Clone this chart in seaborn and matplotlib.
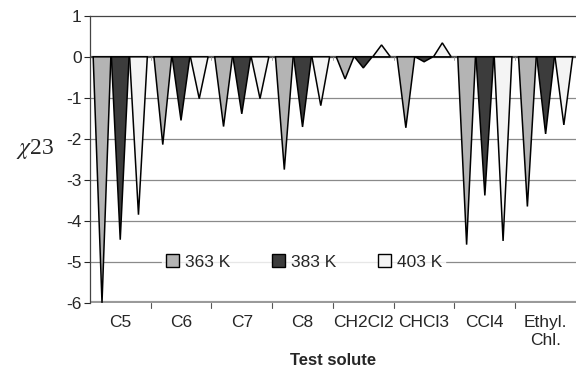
import pandas as pd
import matplotlib.pyplot as plt
import seaborn as sns
from matplotlib.patches import Polygon, Patch

sns.set_theme(style="white")
plt.rcParams['font.family'] = ['Liberation Sans', 'DejaVu Sans']
plt.rcParams['mathtext.fontset'] = 'stix'

# data
solutes = ['C5', 'C6', 'C7', 'C8', 'CH2Cl2', 'CHCl3', 'CCl4', 'Ethyl.\nChl.']
temps = ['363 K', '383 K', '403 K']
chi_363 = [-6.0, -2.14, -1.70, -2.75, -0.54, -1.73, -4.58, -3.65]
chi_383 = [-4.46, -1.55, -1.39, -1.71, -0.27, -0.12, -3.38, -1.88]
chi_403 = [-3.85, -1.02, -1.02, -1.19, 0.29, 0.34, -4.49, -1.66]
colors = ['#b4b4b4', '#3c3c3c', '#f4f4f4']

df = pd.DataFrame({
    'solute': solutes * 3,
    'temp': [t for t in temps for _ in solutes],
    'chi': chi_363 + chi_383 + chi_403,
})

fig = plt.figure(figsize=(5.76, 3.68), dpi=100)
ax = fig.add_axes([0.156, 0.177, 0.844, 0.78])

sns.barplot(data=df, x='solute', y='chi', hue='temp', palette=colors,
            width=0.9, gap=0.03, ax=ax, legend=False)

# turn the bars into cones (triangles with base at zero)
for patch in list(ax.patches):
    x0 = patch.get_x()
    w = patch.get_width()
    h = patch.get_height()
    y0 = patch.get_y()
    tip = y0 + h if y0 == 0 else y0
    tri = Polygon([[x0, 0], [x0 + w, 0], [x0 + w / 2, tip]], closed=True,
                  facecolor=patch.get_facecolor(), edgecolor='black',
                  linewidth=1.1, zorder=3)
    ax.add_patch(tri)
    patch.set_visible(False)

ax.set_ylim(-6, 1)
ax.set_xlim(-0.5, len(solutes) - 0.5)
ax.set_yticks(range(-6, 2))
ax.set_yticklabels([str(v) for v in range(-6, 2)], fontsize=12.5)
ax.tick_params(axis='y', length=4, width=0.8, left=True, pad=2)
ax.tick_params(axis='x', labelsize=12.5, length=0, pad=9)

for v in range(-5, 1):
    ax.axhline(v, color='#555555' if v == 0 else '#8a8a8a',
               lw=1.6 if v == 0 else 0.9, zorder=1)
ax.axhline(-6, color='#9a9a9a', lw=3, zorder=2)

# category separators
for k in range(1, len(solutes)):
    ax.plot([k - 0.5, k - 0.5], [-6.0, -6.12], color='#555555', lw=0.8,
            clip_on=False)
    ax.plot([k - 0.5, k - 0.5], [0.0, -0.07], color='#999999', lw=0.6, zorder=2)

for side in ['left', 'top']:
    ax.spines[side].set_color('#444444')
    ax.spines[side].set_linewidth(0.9)
ax.spines['right'].set_visible(False)
ax.spines['bottom'].set_visible(False)

ax.set_xlabel('Test solute', fontsize=12, fontweight='bold', labelpad=4)
ax.set_ylabel('$\\chi$23', fontsize=17, family='Liberation Serif',
              rotation=0, ha='center', va='center')
ax.yaxis.set_label_coords(-0.113, 0.535)

handles = [Patch(facecolor=c, edgecolor='black', label=t)
           for c, t in zip(colors, temps)]
leg = ax.legend(handles=handles, ncol=3, loc='center',
                bbox_to_anchor=(0.44, 0.143), frameon=True, fontsize=12.5,
                handlelength=0.8, handleheight=0.8, handletextpad=0.3,
                columnspacing=2.4, borderpad=0.2, fancybox=False)
leg.get_frame().set_facecolor('white')
leg.get_frame().set_edgecolor('white')
leg.set_zorder(5)

fig.savefig('out.png', dpi=100)
